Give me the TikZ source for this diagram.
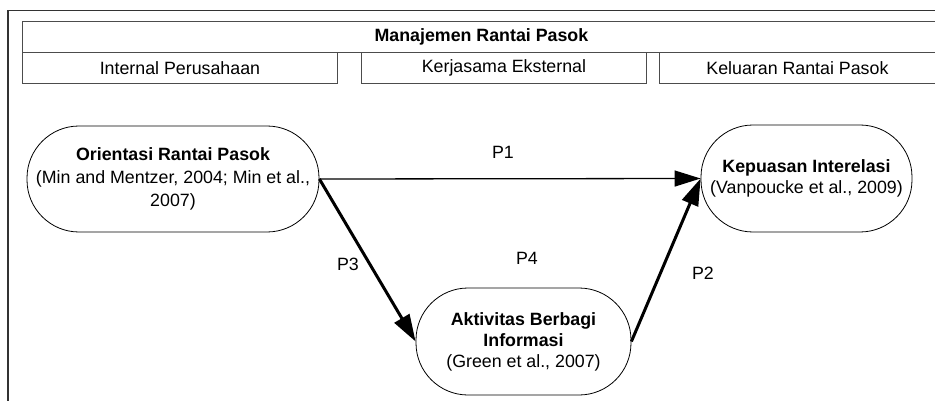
\documentclass[tikz,border=0pt]{standalone}
\usepackage{fontspec}
\setmainfont{Liberation Sans}
\usetikzlibrary{arrows.meta}
\begin{document}
\begin{tikzpicture}[x=1pt,y=-1pt,
  box/.style={draw=black!70, line width=0.9pt, minimum height=31pt, inner sep=0pt, font=\fontsize{17.8}{20}\selectfont},
  stadium/.style={draw=black, line width=0.8pt, rounded corners=52pt, align=center, inner sep=0pt, font=\fontsize{17.8}{21}\selectfont},
  lbl/.style={font=\fontsize{17.8}{20}\selectfont, inner sep=0pt},
  thinarrow/.style={line width=1.3pt, -{Triangle[length=26pt,width=16pt]}},
  thickarrow/.style={line width=3pt, -{Triangle[length=27pt,width=17pt]}}]
\useasboundingbox[fill=white] (0,0) rectangle (935,401);
% outer frame
\draw[line width=1.3pt, black!80] (8,401) -- (8,10.5) -- (940,10.5);
% header boxes
\node[box, minimum width=918pt, anchor=north west, font=\bfseries\fontsize{17.8}{20}\selectfont] (title) at (22,21) {Manajemen Rantai Pasok};
\node[box, minimum width=315pt, anchor=north west] (b1) at (22,52) {Internal Perusahaan};
\node[box, minimum width=285pt, anchor=north west] (b2) at (361,52) {Kerjasama Eksternal};
\node[box, minimum width=276pt, anchor=north west] (b3) at (659,52) {Keluaran Rantai Pasok};
% main nodes
\node[stadium, minimum width=292pt, minimum height=106pt] (orient) at (173,179)
  {\textbf{Orientasi Rantai Pasok}\\[2pt](Min and Mentzer, 2004; Min et al.,\\[2pt]2007)};
\node[stadium, minimum width=211pt, minimum height=107pt] (kepuasan) at (806.5,178.5)
  {\textbf{Kepuasan Interelasi}\\(Vanpoucke et al., 2009)};
\node[stadium, minimum width=215pt, minimum height=107pt] (aktivitas) at (523.5,341.5)
  {\textbf{Aktivitas Berbagi}\\\textbf{Informasi}\\(Green et al., 2007)};
% connectors
\draw[thinarrow] (orient.east) -- (kepuasan.west);
\draw[thickarrow] (orient.east) -- (aktivitas.west);
\draw[thickarrow] (aktivitas.east) -- (kepuasan.west);
% labels
\node[lbl] (p1) at (503,152) {P1};
\node[lbl] (p3) at (348,264) {P3};
\node[lbl] (p4) at (527,258) {P4};
\node[lbl] (p2) at (703,273) {P2};
\end{tikzpicture}
\end{document}
